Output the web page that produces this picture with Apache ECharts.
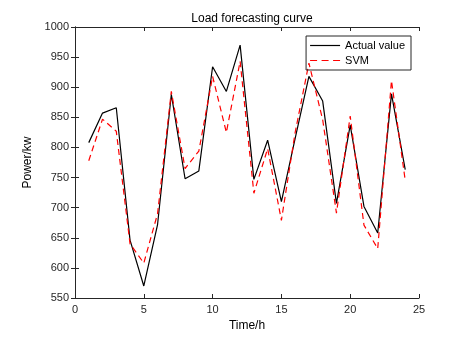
<!DOCTYPE html>
<html>
<head>
<meta charset="utf-8">
<script src="https://cdn.jsdelivr.net/npm/echarts@6/dist/echarts.min.js"></script>
<style>
  html, body { margin: 0; padding: 0; background: #fff; }
  #main { width: 471px; height: 342px; }
</style>
</head>
<body>
<div id="main"></div>
<script>
// time points (h)
var hours = [1, 2, 3, 4, 5, 6, 7, 8, 9, 10, 11, 12, 13, 14, 15, 16, 17, 18, 19, 20, 21, 22, 23, 24];
// actual load
var actualVals = [808, 857, 866, 646, 570, 672, 888, 748, 761, 934, 893, 970, 747, 812, 710, 815, 918, 877, 707, 837, 702, 658, 889, 763];
// SVM forecast
var svmVals = [778, 847, 827, 640, 608, 690, 893, 765, 794, 918, 825, 943, 724, 798, 679, 825, 940, 846, 691, 852, 671, 632, 911, 745];

var actualData = [], svmData = [];
for (var i = 0; i < hours.length; i++) {
    actualData.push([hours[i], actualVals[i]]);
    svmData.push([hours[i], svmVals[i]]);
}

var font = 'Liberation Sans, Arial, sans-serif';
var myChart = echarts.init(document.getElementById('main'));

var tickStyle = { show: true, inside: true, length: 4, lineStyle: { color: '#262626' } };
var lineStyle = { show: true, lineStyle: { color: '#262626', width: 1 } };

var option = {
    backgroundColor: '#fff',
    animation: false,
    title: {
        text: 'Load forecasting curve',
        left: 247, top: 8, textAlign: 'center',
        textStyle: { fontFamily: font, fontSize: 12, fontWeight: 'normal', color: '#000' }
    },
    legend: {
        right: 60, top: 36,
        orient: 'vertical',
        itemWidth: 30, itemHeight: 10, itemGap: 4,
        borderColor: '#262626', borderWidth: 1, borderRadius: 0,
        padding: [4, 6, 4, 4],
        textStyle: { fontFamily: font, fontSize: 11, color: '#000' },
        data: [
            { name: 'Actual value', icon: 'path://M0,0 L30,0 L30,1.2 L0,1.2 Z', itemStyle: { color: '#000' } },
            { name: 'SVM', icon: 'path://M0,0 L7,0 L7,1.2 L0,1.2 Z M11.5,0 L18.5,0 L18.5,1.2 L11.5,1.2 Z M23,0 L30,0 L30,1.2 L23,1.2 Z', itemStyle: { color: '#ff0000' } }
        ]
    },
    grid: { left: 75, right: 52, top: 27, bottom: 44 },
    xAxis: [{
        type: 'value', min: 0, max: 25, interval: 5,
        name: 'Time/h', nameLocation: 'middle', nameGap: 22,
        nameTextStyle: { fontFamily: font, fontSize: 12, color: '#000' },
        axisLine: lineStyle, axisTick: tickStyle,
        axisLabel: { fontFamily: font, fontSize: 11, color: '#262626', margin: 6 },
        splitLine: { show: false }
    }, {
        type: 'value', min: 0, max: 25, interval: 5, position: 'top',
        axisLine: lineStyle, axisTick: tickStyle,
        axisLabel: { show: false }, splitLine: { show: false }
    }],
    yAxis: [{
        type: 'value', min: 550, max: 1000, interval: 50,
        name: 'Power/kw', nameLocation: 'middle', nameGap: 40,
        nameTextStyle: { fontFamily: font, fontSize: 12, color: '#000' },
        axisLine: lineStyle, axisTick: tickStyle,
        axisLabel: {
            fontFamily: font, fontSize: 11, color: '#262626', margin: 6,
            formatter: function (v) { return String(v); }
        },
        splitLine: { show: false }
    }, {
        type: 'value', min: 550, max: 1000, interval: 50, position: 'right',
        axisLine: lineStyle, axisTick: tickStyle,
        axisLabel: { show: false }, splitLine: { show: false }
    }],
    series: [
        {
            name: 'Actual value', type: 'line', data: actualData,
            symbol: 'none', color: '#000',
            lineStyle: { color: '#000', width: 1.2 }
        },
        {
            name: 'SVM', type: 'line', data: svmData,
            symbol: 'none', color: '#ff0000',
            lineStyle: { color: '#ff0000', width: 1.2, type: [6, 4] }
        }
    ]
};

myChart.setOption(option);
</script>
</body>
</html>
